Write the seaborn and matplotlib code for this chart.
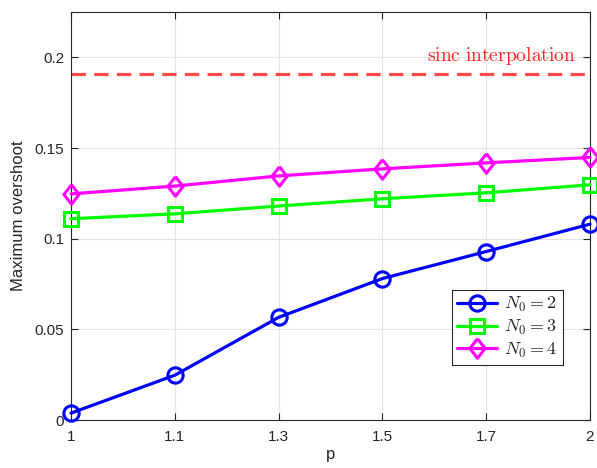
import matplotlib
matplotlib.use("Agg")
import matplotlib.pyplot as plt
import seaborn as sns
import pandas as pd

p_labels = ["1", "1.1", "1.3", "1.5", "1.7", "2"]
n0_2 = [0.0038, 0.0247, 0.0566, 0.0780, 0.0929, 0.1080]
n0_3 = [0.1110, 0.1137, 0.1180, 0.1220, 0.1253, 0.1297]
n0_4 = [0.1247, 0.1290, 0.1346, 0.1385, 0.1418, 0.1448]
sinc_value = 0.191
y_ticks = [0, 0.05, 0.1, 0.15, 0.2]
y_tick_labels = ["0", "0.05", "0.1", "0.15", "0.2"]

sns.set_theme(style="whitegrid")
plt.rcParams["font.family"] = ["Liberation Sans", "DejaVu Sans"]
plt.rcParams["mathtext.fontset"] = "cm"

fig = plt.figure(figsize=(5.97, 4.68), dpi=100)
ax = fig.add_axes([71/597, 48/468, 519/597, 408/468])

diamond = [(0, 1), (0.78, 0), (0, -1), (-0.78, 0), (0, 1)]
series = [
    (n0_2, "#0000ff", "o", r"$N_0 = 2$", 11),
    (n0_3, "#00ff00", "s", r"$N_0 = 3$", 9.5),
    (n0_4, "#ff00ff", diamond, r"$N_0 = 4$", 14),
]
for vals, col, mk, lab, ms in series:
    df = pd.DataFrame({"p": p_labels, "v": vals})
    sns.lineplot(data=df, x="p", y="v", ax=ax, color=col, marker=mk,
                 markersize=ms, markeredgecolor=col, markerfacecolor="none",
                 markeredgewidth=2.2, linewidth=2.3, label=lab, sort=False)
for ln in ax.lines:
    ln.set_clip_on(False)
    ln.set_zorder(3)

ax.axhline(sinc_value, color="#ff4a4a", linewidth=2.3, dashes=(4.5, 2.6))
ax.text(0.972, sinc_value + 0.0035, r"$\mathrm{sinc\ interpolation}$",
        transform=ax.get_yaxis_transform(), ha="right", va="bottom",
        color="#ff2020", fontsize=14)

ax.set_xlim(0, len(p_labels) - 1)
ax.set_ylim(0, 0.225)
ax.set_yticks(y_ticks)
ax.set_yticklabels(y_tick_labels)
ax.set_xlabel("p", fontsize=12, labelpad=2)
ax.set_ylabel("Maximum overshoot", fontsize=12, labelpad=6)

ax.grid(True, color="#e3e3e3", linewidth=0.8)
for s in ax.spines.values():
    s.set_visible(True)
    s.set_color("#262626")
    s.set_linewidth(0.8)
ax.tick_params(axis="both", direction="in", length=5, width=0.8,
               color="#262626", labelsize=11, labelcolor="#262626",
               top=True, right=True, bottom=True, left=True, pad=5)
ax.tick_params(axis="x", pad=7)

leg = ax.legend(loc="upper left", bbox_to_anchor=(0.734, 0.319), fancybox=False,
                frameon=True, fontsize=13, handlelength=2.2, borderpad=0.3,
                labelspacing=0.2, handletextpad=0.4, borderaxespad=0)
leg.get_frame().set_edgecolor("#262626")
leg.get_frame().set_linewidth(0.8)
leg.get_frame().set_alpha(1)
leg.set_zorder(5)

fig.savefig("out.png", dpi=100)
